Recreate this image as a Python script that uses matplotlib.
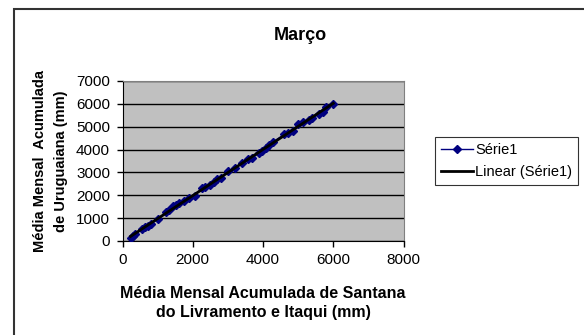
import numpy as np
import matplotlib
matplotlib.use("Agg")
from matplotlib import pyplot as plt
from matplotlib.patches import Rectangle

plt.rcParams["font.family"] = ["Liberation Sans", "DejaVu Sans"]

# accumulated monthly means (mm)
santana_itaqui = [230, 300, 360, 560, 650, 720, 820, 1000, 1250, 1330, 1450, 1520,
                  1620, 1750, 1880, 2050, 2250, 2350, 2480, 2600, 2700, 2800,
                  3000, 3200, 3400, 3580, 3700, 3880, 3980, 4080, 4180, 4280,
                  4600, 4700, 4850, 5000, 5150, 5300, 5400, 5600, 5700, 5780, 6000]
uruguaiana = [150, 220, 300, 520, 600, 660, 760, 950, 1270, 1350, 1530, 1580,
              1650, 1750, 1860, 1970, 2300, 2360, 2450, 2600, 2700, 2750,
              3060, 3180, 3420, 3580, 3650, 3830, 3950, 4080, 4200, 4330,
              4660, 4720, 4800, 5120, 5200, 5300, 5380, 5560, 5650, 5860, 5980]

x_ticks = [0, 2000, 4000, 6000, 8000]
y_ticks = [0, 1000, 2000, 3000, 4000, 5000, 6000, 7000]

fig = plt.figure(figsize=(5.84, 3.35), dpi=100)
fig.patch.set_facecolor("white")

# chart frame, runs off the right and bottom edges
fig.patches.append(Rectangle((14 / 584, -0.05), 1.0, 1 - 9 / 335 + 0.05,
                             transform=fig.transFigure, fill=False,
                             edgecolor="#333333", linewidth=1.5))

ax = fig.add_axes([122.5 / 584, 1 - 241 / 335, 281 / 584, 160 / 335])
ax.set_facecolor("#C0C0C0")

x = np.array(santana_itaqui)
y = np.array(uruguaiana)
ax.plot(x, y, color="#000080", marker="D", markersize=4, linewidth=1,
        label="Série1", zorder=3)

# least squares trend line
slope, intercept = np.polyfit(x, y, 1)
xf = np.array([x.min(), x.max()])
ax.plot(xf, slope * xf + intercept, color="black", linewidth=2,
        label="Linear (Série1)", zorder=4)

ax.set_xlim(0, 8000)
ax.set_ylim(0, 7000)
ax.set_xticks(x_ticks)
ax.set_yticks(y_ticks)
ax.tick_params(labelsize=11, direction="out", length=4, width=1, pad=5)
ax.yaxis.grid(True, color="black", linewidth=1)
ax.set_axisbelow(True)
for side in ["top", "right"]:
    ax.spines[side].set_color("#808080")
for side in ["left", "bottom"]:
    ax.spines[side].set_color("black")

fig.text(300 / 584, 1 - 35 / 335, "Março", fontsize=13, fontweight="bold",
         ha="center", va="center")
ax.set_xlabel("Média Mensal Acumulada de Santana\ndo Livramento e Itaqui (mm)",
              fontsize=11.5, fontweight="bold", labelpad=13, linespacing=1.35)
ax.set_ylabel("Média Mensal  Acumulada\nde Uruguaiana (mm)",
              fontsize=10.5, fontweight="bold", labelpad=6, linespacing=1.6)

leg = ax.legend(loc="center left", bbox_to_anchor=(1.112, 0.5), fontsize=10.5,
                frameon=True, fancybox=False, edgecolor="black",
                handlelength=2.2, handletextpad=0.15, borderpad=0.4,
                labelspacing=0.55, borderaxespad=0)
leg.get_frame().set_linewidth(0.8)

fig.savefig("out.png", dpi=100)
